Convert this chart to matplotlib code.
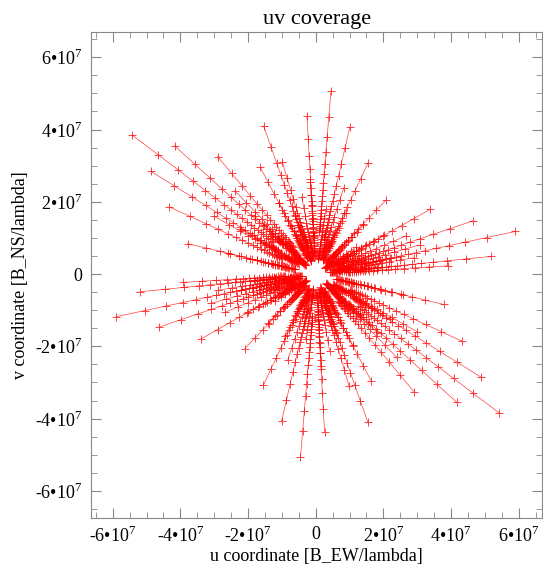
import numpy as np
import matplotlib.pyplot as plt
from matplotlib.ticker import MultipleLocator, FuncFormatter

plt.rcParams['font.family'] = ['Liberation Serif', 'DejaVu Serif']
plt.rcParams['mathtext.fontset'] = 'custom'
plt.rcParams['mathtext.rm'] = 'Liberation Serif'

# outermost uv point of each baseline (shortest wavelength), units of 1e7
u_out = [-5.43, -4.88, -4.17, -4.33, -2.90, -3.78, -1.54, -1.64, -0.99, -0.26, -0.41,
         0.45, 1.01, 1.55, 2.09, 3.38, 4.64, 5.90, 5.19, 3.92, 2.68, 0.83,
         -2.39, -3.00, -2.20, -2.59, -1.80, -1.30, -1.09, -0.60, -0.16, 0.30,
         1.41, 2.00, 3.09, 1.20, 0.90, 2.20, 1.80, 2.90]
v_out = [3.85, 2.85, 3.55, 1.86, 3.25, 0.84, 4.10, 2.96, 3.11, 4.37, 2.13,
         5.06, 4.07, 3.08, 2.06, 1.79, 1.47, 1.18, 0.49, 0.23, 1.06, 2.39,
         2.30, 1.60, 1.25, 0.57, 1.60, 1.10, 1.98, 1.60, 2.55, 1.80,
         1.36, 1.06, 0.81, 0.75, 1.70, 0.45, 0.20, 0.45]
# spectral channels [micron]
wavelengths = [3.0, 3.5, 4.0, 4.5, 5.0, 5.5, 6.0, 6.5, 7.0, 7.5, 8.0,
               8.5, 9.0, 9.5, 10.0, 10.5, 11.0, 11.5, 12.0, 12.5, 13.0]

fig = plt.figure(figsize=(5.43, 5.64), dpi=100)
ax = fig.add_axes([0.167, 0.0816, 0.832, 0.8617])

scale = wavelengths[0] / np.array(wavelengths)
for uo, vo in zip(u_out, v_out):
    for sgn in (1, -1):
        u = sgn * uo * 1e7 * scale
        v = sgn * vo * 1e7 * scale
        ax.plot(u, v, color='red', lw=0.5, alpha=0.75,
                marker='+', ms=6, mew=0.7)

ax.set_xlim(-6.65e7, 6.7e7)
ax.set_ylim(-6.75e7, 6.7e7)

def fmt(x, pos):
    m = int(round(x / 1e7))
    if m == 0:
        return '0'
    return f'{m}•10$^{{7}}$'

for axis in (ax.xaxis, ax.yaxis):
    axis.set_major_locator(MultipleLocator(2e7))
    axis.set_minor_locator(MultipleLocator(5e6))
    axis.set_major_formatter(FuncFormatter(fmt))

ax.tick_params(which='both', direction='in', top=True, right=True,
               color='#888888', labelsize=13)
ax.tick_params(which='major', length=7, pad=6)
ax.tick_params(which='minor', length=4)
for sp in ax.spines.values():
    sp.set_color('#888888')

ax.set_title('uv coverage', fontsize=16, pad=6)
ax.set_xlabel('u coordinate [B_EW/lambda]', fontsize=13, labelpad=1)
ax.set_ylabel('v coordinate [B_NS/lambda]', fontsize=13, labelpad=4)

fig.savefig('out.png', dpi=100)
